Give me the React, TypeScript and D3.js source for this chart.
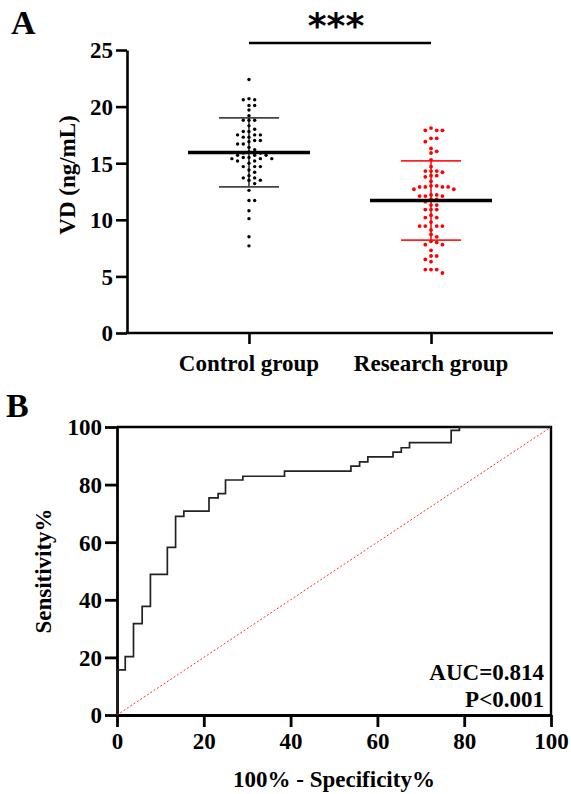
import React, { useRef, useEffect } from "react";
import * as d3 from "d3";

// panel A: individual VD values (ng/mL)
const groups = ["Control group", "Research group"];
const controlValues = [
  22.4, 20.7, 20.6, 20.6, 20.1, 20.1, 19.7, 19.2, 18.8, 18.8, 18.8, 18.3, 18.0, 17.8, 17.8,
  17.5, 17.5, 17.5, 17.3, 17.3, 17.0, 17.0, 16.9, 16.7, 16.7, 16.4, 16.2, 16.0, 15.9, 15.9,
  15.7, 15.7, 15.7, 15.5, 15.5, 15.4, 15.4, 15.4, 15.2, 15.2, 15.0, 14.7, 14.7, 14.7, 14.4,
  14.2, 13.9, 13.7, 13.7, 13.5, 13.5, 13.2, 12.6, 11.7, 11.7, 10.8, 10.1, 8.5, 7.7,
];
const researchValues = [
  18.1, 17.9, 17.9, 17.9, 17.2, 17.2, 16.9, 16.3, 16.05, 15.9, 15.3, 14.7, 14.3, 14.3, 14.3,
  14.2, 13.9, 13.9, 13.8, 13.4, 13.0, 13.0, 12.9, 12.9, 12.9, 12.9, 12.7, 12.7, 12.2, 12.2,
  12.1, 12.1, 12.1, 11.8, 11.8, 11.6, 11.3, 11.3, 10.9, 10.9, 10.9, 10.4, 10.2, 10.2, 9.8,
  9.45, 9.45, 9.45, 9.45, 9.1, 8.7, 8.5, 8.1, 8.0, 7.8, 7.8, 7.3, 6.8, 6.8, 6.5, 6.3, 5.6,
  5.6, 5.6, 5.3,
];
const groupMeans = [15.95, 11.7];
const groupSDs = [3.05, 3.5];
const groupColors = ["#000000", "#ff0000"];
const sdColors = ["#444444", "#ff2020"];
const yTicksA = [0, 5, 10, 15, 20, 25];

// panel B: ROC curve (100% - specificity, sensitivity)
const rocFpr = [0, 0, 1.9, 3.8, 5.8, 7.7, 11.6, 13.5, 15.4, 21.2, 23.3, 25.0, 29.0, 38.6, 53.9, 55.9, 57.8, 63.6, 65.5, 67.4, 77.0, 78.9, 100];
const rocTpr = [0, 15.7, 20.3, 31.7, 37.7, 48.8, 58.2, 69.0, 70.8, 75.4, 76.9, 81.6, 82.9, 84.7, 86.4, 87.9, 89.6, 91.3, 92.8, 94.6, 98.8, 100, 100];
const ticksB = [0, 20, 40, 60, 80, 100];
const aucText = "AUC=0.814";
const pText = "P<0.001";

const FONT = "'Liberation Serif', 'Times New Roman', serif";

// simple beeswarm: place each dot at the first free horizontal slot
function swarm(values: number[], y: (v: number) => number, step: number, minDist: number) {
  const sorted = [...values].sort((a, b) => b - a);
  const placed: { dx: number; y: number }[] = [];
  sorted.forEach((v) => {
    const py = y(v);
    for (let k = 0; k < 20; k++) {
      const slot = k === 0 ? 0 : (k % 2 === 1 ? 1 : -1) * Math.ceil(k / 2);
      const dx = slot * step;
      const hit = placed.some((p) => Math.hypot(p.dx - dx, p.y - py) < minDist);
      if (!hit) {
        placed.push({ dx, y: py });
        break;
      }
    }
  });
  return placed;
}

const App = () => {
  const svgRef = useRef(null);

  useEffect(() => {
    const svg = d3.select(svgRef.current);
    svg.selectAll("*").remove();

    /* ---------- Panel A ---------- */
    const yA = d3.scaleLinear().domain([0, 25]).range([333, 50]);
    const xA = d3.scalePoint().domain(groups).range([127, 553]).padding(0.67);

    const gA = svg.append("g");

    const yAxisA = gA
      .append("g")
      .attr("transform", "translate(127,0)")
      .call(d3.axisLeft(yA).tickValues(yTicksA).tickSize(11).tickSizeOuter(0).tickPadding(3));
    const xAxisA = gA
      .append("g")
      .attr("transform", "translate(0,333)")
      .call(d3.axisBottom(xA).tickSize(11).tickSizeOuter(0).tickFormat(() => ""));
    [yAxisA, xAxisA].forEach((ax) => {
      ax.select(".domain").attr("stroke-width", 2.6);
      ax.selectAll(".tick line").attr("stroke-width", 2.6);
      ax.selectAll("text")
        .attr("font-family", FONT)
        .attr("font-weight", "bold")
        .attr("font-size", 23)
        .attr("fill", "#000");
    });
    yAxisA.selectAll("text").attr("dy", "0.34em");
    // extend x axis line to the y axis
    xAxisA.select(".domain").attr("d", "M125.7,0H553");

    groups.forEach((gName) => {
      gA.append("text")
        .attr("x", xA(gName))
        .attr("y", 371)
        .attr("text-anchor", "middle")
        .attr("font-family", FONT)
        .attr("font-weight", "bold")
        .attr("font-size", 23)
        .text(gName);
    });

    gA.append("text")
      .attr("transform", "translate(75,175) rotate(-90)")
      .attr("text-anchor", "middle")
      .attr("font-family", FONT)
      .attr("font-weight", "bold")
      .attr("font-size", 23)
      .text("VD (ng/mL)");

    const allValues = [controlValues, researchValues];
    groups.forEach((gName, i) => {
      const cx = xA(gName) as number;
      const mean = groupMeans[i];
      const sd = groupSDs[i];
      // SD bar
      gA.append("line")
        .attr("x1", cx).attr("x2", cx)
        .attr("y1", yA(mean + sd)).attr("y2", yA(mean - sd))
        .attr("stroke", sdColors[i]).attr("stroke-width", 1.7);
      [mean + sd, mean - sd].forEach((v) => {
        gA.append("line")
          .attr("x1", cx - 30).attr("x2", cx + 30)
          .attr("y1", yA(v)).attr("y2", yA(v))
          .attr("stroke", sdColors[i]).attr("stroke-width", 1.7);
      });
      // dots
      const pts = swarm(allValues[i], yA, 5.7, 4.4);
      gA.selectAll(".dot" + i)
        .data(pts)
        .enter()
        .append("circle")
        .attr("cx", (d) => cx + d.dx)
        .attr("cy", (d) => d.y)
        .attr("r", i === 0 ? 1.7 : 1.9)
        .attr("fill", groupColors[i]);
      // mean line
      gA.append("line")
        .attr("x1", cx - 61).attr("x2", cx + 61)
        .attr("y1", yA(mean)).attr("y2", yA(mean))
        .attr("stroke", "#000").attr("stroke-width", 3.4);
    });

    // significance bar
    const x0 = xA(groups[0]) as number;
    const x1 = xA(groups[1]) as number;
    gA.append("line")
      .attr("x1", x0).attr("x2", x1)
      .attr("y1", 43).attr("y2", 43)
      .attr("stroke", "#000").attr("stroke-width", 2.6);
    gA.append("text")
      .attr("x", (x0 + x1) / 2 - 4)
      .attr("y", 38)
      .attr("text-anchor", "middle")
      .attr("font-family", "'DejaVu Sans', sans-serif")
      .attr("font-weight", "bold")
      .attr("font-size", 36)
      .text("***");

    svg.append("text")
      .attr("x", 11).attr("y", 34)
      .attr("font-family", FONT).attr("font-weight", "bold").attr("font-size", 34)
      .text("A");

    /* ---------- Panel B ---------- */
    const xB = d3.scaleLinear().domain([0, 100]).range([117, 551]);
    const yB = d3.scaleLinear().domain([0, 100]).range([715, 427]);
    const gB = svg.append("g");

    // frame
    gB.append("path")
      .attr("d", `M${xB(0)},${yB(100)}H${xB(100)}V${yB(0)}`)
      .attr("fill", "none").attr("stroke", "#000").attr("stroke-width", 2.4);

    const xAxisB = gB
      .append("g")
      .attr("transform", `translate(0,${yB(0)})`)
      .call(d3.axisBottom(xB).tickValues(ticksB).tickSize(12).tickSizeOuter(0).tickPadding(6));
    const yAxisB = gB
      .append("g")
      .attr("transform", `translate(${xB(0)},0)`)
      .call(d3.axisLeft(yB).tickValues(ticksB).tickSize(12).tickSizeOuter(0).tickPadding(3));
    [xAxisB, yAxisB].forEach((ax) => {
      ax.select(".domain").attr("stroke-width", 2.8);
      ax.selectAll(".tick line").attr("stroke-width", 2.8);
      ax.selectAll("text")
        .attr("font-family", FONT)
        .attr("font-weight", "bold")
        .attr("font-size", 23)
        .attr("fill", "#000");
    });
    yAxisB.selectAll("text").attr("dy", "0.34em");

    // reference diagonal
    gB.append("line")
      .attr("x1", xB(0)).attr("y1", yB(0))
      .attr("x2", xB(100)).attr("y2", yB(100))
      .attr("stroke", "#ff3030").attr("stroke-width", 1)
      .attr("stroke-dasharray", "2,2");

    const roc = rocFpr.map((f, i) => [f, rocTpr[i]] as [number, number]);
    const line = d3
      .line<[number, number]>()
      .x((d) => xB(d[0]))
      .y((d) => yB(d[1]))
      .curve(d3.curveStepAfter);
    gB.append("path")
      .attr("d", line(roc))
      .attr("fill", "none")
      .attr("stroke", "#222")
      .attr("stroke-width", 1.7);

    gB.append("text")
      .attr("x", 544).attr("y", 680)
      .attr("text-anchor", "end")
      .attr("font-family", FONT).attr("font-weight", "bold").attr("font-size", 23)
      .text(aucText);
    gB.append("text")
      .attr("x", 544).attr("y", 707)
      .attr("text-anchor", "end")
      .attr("font-family", FONT).attr("font-weight", "bold").attr("font-size", 23)
      .text(pText);

    gB.append("text")
      .attr("x", (xB(0) + xB(100)) / 2)
      .attr("y", 787)
      .attr("text-anchor", "middle")
      .attr("font-family", FONT).attr("font-weight", "bold").attr("font-size", 23)
      .text("100% - Specificity%");
    gB.append("text")
      .attr("transform", `translate(51,${(yB(0) + yB(100)) / 2}) rotate(-90)`)
      .attr("text-anchor", "middle")
      .attr("font-family", FONT).attr("font-weight", "bold").attr("font-size", 23)
      .text("Sensitivity%");

    svg.append("text")
      .attr("x", 6).attr("y", 417)
      .attr("font-family", FONT).attr("font-weight", "bold").attr("font-size", 34)
      .text("B");
  }, []);

  return (
    <svg
      ref={svgRef}
      width={571}
      height={794}
      style={{ position: "absolute", left: 0, top: 0, background: "#fff" }}
    />
  );
};

export default App;
